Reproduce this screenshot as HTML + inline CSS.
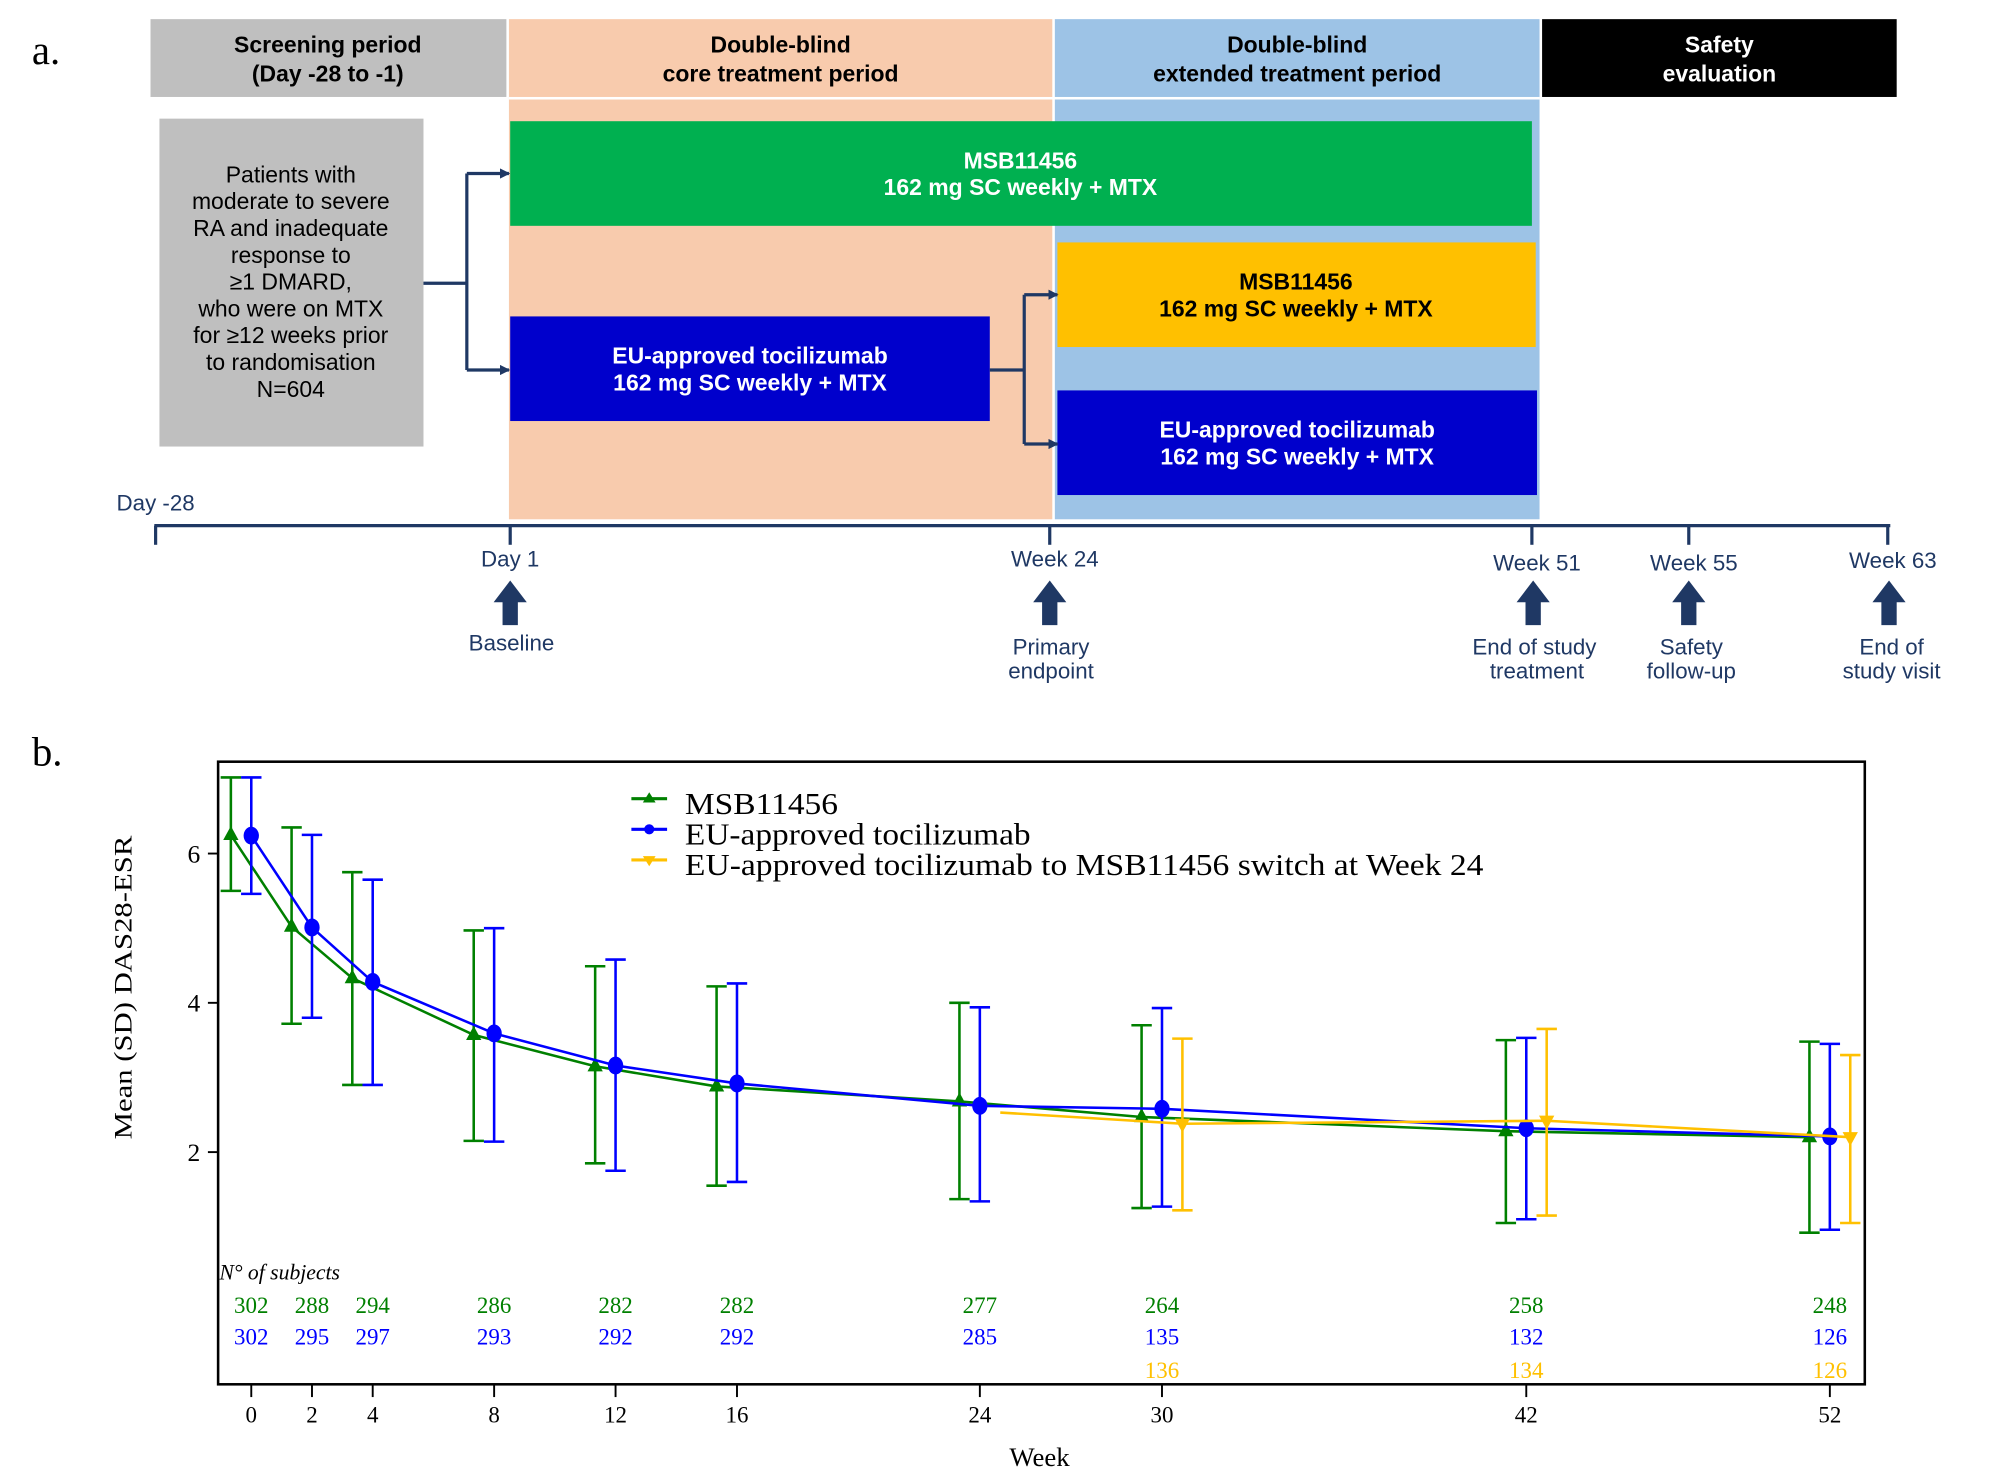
<!DOCTYPE html>
<html><head><meta charset="utf-8"><style>
html,body{margin:0;padding:0;background:#fff;}
svg{display:block;}
.bx{font-family:"Liberation Sans",sans-serif;font-weight:bold;font-size:18px;text-anchor:middle;}
.nv{font-family:"Liberation Sans",sans-serif;font-size:17.5px;fill:#1f3864;text-anchor:middle;}
.sf{font-family:"Liberation Serif",serif;}
</style></head><body>
<svg id="fig" width="2000" height="1480" viewBox="0 0 1568 1160" preserveAspectRatio="none" xmlns="http://www.w3.org/2000/svg">
<defs><marker id="ah" markerWidth="8" markerHeight="8" refX="7" refY="4" orient="auto" markerUnits="userSpaceOnUse"><path d="M0,0 L8,4 L0,8 z" fill="#1f3864"/></marker></defs>
<g>
<text class="sf" x="25" y="50" font-size="32">a.</text>
<rect x="118" y="15" width="279" height="61" fill="#bfbfbf"/>
<rect x="399" y="15" width="426" height="392" fill="#f8cbad"/>
<rect x="827" y="15" width="380" height="392" fill="#9dc3e6"/>
<rect x="399" y="76" width="808" height="2" fill="#fff"/>
<rect x="1209" y="15" width="278" height="61" fill="#000"/>
<text class="bx" x="257" y="41">Screening period</text><text class="bx" x="257" y="64">(Day -28 to -1)</text>
<text class="bx" x="612" y="41">Double-blind</text><text class="bx" x="612" y="64">core treatment period</text>
<text class="bx" x="1017" y="41">Double-blind</text><text class="bx" x="1017" y="64">extended treatment period</text>
<text class="bx" x="1348" y="41" fill="#fff">Safety</text><text class="bx" x="1348" y="64" fill="#fff">evaluation</text>
<rect x="125" y="93" width="207" height="257" fill="#bfbfbf"/>
<g font-family="Liberation Sans,sans-serif" font-size="18" text-anchor="middle" fill="#000">
<text x="228" y="143">Patients with</text><text x="228" y="164">moderate to severe</text><text x="228" y="185">RA and inadequate</text><text x="228" y="206">response to</text><text x="228" y="227">≥1 DMARD,</text><text x="228" y="248">who were on MTX</text><text x="228" y="269">for ≥12 weeks prior</text><text x="228" y="290">to randomisation</text><text x="228" y="311">N=604</text></g>
<rect x="400" y="95" width="801" height="82" fill="#00b050"/>
<text class="bx" x="800" y="132" fill="#fff">MSB11456</text><text class="bx" x="800" y="153" fill="#fff">162 mg SC weekly + MTX</text>
<rect x="400" y="248" width="376" height="82" fill="#0000cc"/>
<text class="bx" x="588" y="285" fill="#fff">EU-approved tocilizumab</text><text class="bx" x="588" y="306" fill="#fff">162 mg SC weekly + MTX</text>
<rect x="829" y="190" width="375" height="82" fill="#ffc000"/>
<text class="bx" x="1016" y="227" fill="#000">MSB11456</text><text class="bx" x="1016" y="248" fill="#000">162 mg SC weekly + MTX</text>
<rect x="829" y="306" width="376" height="82" fill="#0000cc"/>
<text class="bx" x="1017" y="343" fill="#fff">EU-approved tocilizumab</text><text class="bx" x="1017" y="364" fill="#fff">162 mg SC weekly + MTX</text>
<g stroke="#1f3864" stroke-width="2.5" fill="none">
<path d="M332,222 H366 M366,136 V290"/><path d="M366,136 H399" marker-end="url(#ah)"/><path d="M366,290 H399" marker-end="url(#ah)"/>
<path d="M776,290 H803 M803,231 V348"/><path d="M803,231 H829" marker-end="url(#ah)"/><path d="M803,348 H829" marker-end="url(#ah)"/>
</g>
<g stroke="#1f3864" stroke-width="2.5">
<line x1="121" y1="412" x2="1482" y2="412"/>
<line x1="122" y1="412" x2="122" y2="427"/><line x1="400" y1="412" x2="400" y2="427"/><line x1="823" y1="412" x2="823" y2="427"/><line x1="1201" y1="412" x2="1201" y2="427"/><line x1="1324" y1="412" x2="1324" y2="427"/><line x1="1480" y1="412" x2="1480" y2="427"/>
</g>
<text class="nv" x="122" y="400">Day -28</text>
<text class="nv" x="400" y="444">Day 1</text><text class="nv" x="827" y="444">Week 24</text><text class="nv" x="1205" y="447">Week 51</text><text class="nv" x="1328" y="447">Week 55</text><text class="nv" x="1484" y="445">Week 63</text>
<g fill="#1f3864">
<path d="M400,455 l13,17 h-7 v18 h-12 v-18 h-7 z"/><path d="M823,455 l13,17 h-7 v18 h-12 v-18 h-7 z"/><path d="M1202,455 l13,17 h-7 v18 h-12 v-18 h-7 z"/><path d="M1324,455 l13,17 h-7 v18 h-12 v-18 h-7 z"/><path d="M1481,455 l13,17 h-7 v18 h-12 v-18 h-7 z"/>
</g>
<text class="nv" x="401" y="510">Baseline</text>
<text class="nv" x="824" y="513">Primary</text><text class="nv" x="824" y="532">endpoint</text>
<text class="nv" x="1203" y="513">End of study</text><text class="nv" x="1205" y="532">treatment</text>
<text class="nv" x="1326" y="513">Safety</text><text class="nv" x="1326" y="532">follow-up</text>
<text class="nv" x="1483" y="513">End of</text><text class="nv" x="1483" y="532">study visit</text>
</g>
<g id="chart">
<text class="sf" x="25" y="600" font-size="32">b.</text>
<rect x="171" y="597" width="1291" height="488" fill="none" stroke="#000" stroke-width="2"/>
<text class="sf" font-size="20" text-anchor="middle" textLength="238" lengthAdjust="spacingAndGlyphs" transform="translate(103,774) rotate(-90)">Mean (SD) DAS28-ESR</text>
<text class="sf" font-size="21" x="815" y="1149" text-anchor="middle">Week</text>
<text class="sf" font-size="17" font-style="italic" x="172" y="1003">N° of subjects</text>
<g id="legend">
<line x1="495" y1="626" x2="523" y2="626" stroke="#008000" stroke-width="2.5"/><path d="M509,621 l5,8 h-10 z" fill="#008000"/>
<text class="sf" x="537" y="638" font-size="24" textLength="120" lengthAdjust="spacingAndGlyphs">MSB11456</text>
<line x1="495" y1="650" x2="523" y2="650" stroke="#0000ff" stroke-width="2.5"/><circle cx="509" cy="650" r="4" fill="#0000ff"/>
<text class="sf" x="537" y="662" font-size="24" textLength="271" lengthAdjust="spacingAndGlyphs">EU-approved tocilizumab</text>
<line x1="495" y1="674" x2="523" y2="674" stroke="#ffc000" stroke-width="2.5"/><path d="M509,679 l5,-8 h-10 z" fill="#ffc000"/>
<text class="sf" x="537" y="686" font-size="24" textLength="626" lengthAdjust="spacingAndGlyphs">EU-approved tocilizumab to MSB11456 switch at Week 24</text>
</g>
</g>
</svg>
<script>
const weeks=[0,2,4,8,12,16,24,30,42,52];
const yTicks=[2,4,6];
const msbMean=[6.25,5.02,4.33,3.57,3.15,2.88,2.68,2.47,2.28,2.2];
const msbHi=[7.02,6.35,5.75,4.97,4.49,4.22,4.0,3.7,3.5,3.48];
const msbLo=[5.5,3.72,2.9,2.15,1.85,1.55,1.37,1.25,1.05,0.92];
const euMean=[6.24,5.01,4.28,3.59,3.16,2.92,2.62,2.58,2.32,2.21];
const euHi=[7.02,6.25,5.65,5.0,4.58,4.26,3.94,3.93,3.53,3.45];
const euLo=[5.46,3.8,2.9,2.14,1.75,1.6,1.34,1.27,1.1,0.96];
const swWeeks=[24,30,42,52];
const swMean=[2.53,2.38,2.42,2.2];
const swHi=[null,3.52,3.65,3.3];
const swLo=[null,1.22,1.15,1.05];
const msbN=[302,288,294,286,282,282,277,264,258,248];
const euN=[302,295,297,293,292,292,285,135,132,126];
const swNWeeks=[30,42,52];
const swN=[136,134,126];
const X=w=>197+w*23.8;
const Y=v=>903-(v-2)*58.5;
const svg=document.getElementById('chart');
const NS='http://www.w3.org/2000/svg';
function mk(t,a){const e=document.createElementNS(NS,t);for(const k in a)e.setAttribute(k,a[k]);svg.appendChild(e);return e;}
yTicks.forEach(v=>{
 const t=mk('line',{x1:163,x2:171,y1:Y(v),y2:Y(v),stroke:'#000','stroke-width':1.5});
 
 
 const l=mk('text',{x:152,y:Y(v)+7,'font-size':20,'text-anchor':'middle','font-family':'Liberation Serif,serif'});l.textContent=v;
 
 
});
weeks.forEach(w=>{
 const t=mk('line',{x1:X(w),x2:X(w),y1:1085,y2:1095,stroke:'#000','stroke-width':1.5});
 
 
 const l=mk('text',{x:X(w),y:1115,'font-size':18,'text-anchor':'middle','font-family':'Liberation Serif,serif'});l.textContent=w;
 
 
});
function series(ws,mean,hi,lo,off,col,shape,name){
 const pts=ws.map((w,i)=>(X(w)+off)+','+Y(mean[i])).join(' ');
 const pl=mk('polyline',{points:pts,fill:'none',stroke:col,'stroke-width':2});
 
 
 ws.forEach((w,i)=>{
  const x=X(w)+off,y=Y(mean[i]);
  if(hi[i]!=null){
   const g=mk('path',{d:`M${x},${Y(hi[i])}V${Y(lo[i])}M${x-8},${Y(hi[i])}H${x+8}M${x-8},${Y(lo[i])}H${x+8}`,stroke:col,'stroke-width':2,fill:'none'});
   
   
   let m;
   if(shape==='tri')m=mk('path',{d:`M${x},${y-7}l6,11h-12z`,fill:col});
   else if(shape==='dot')m=mk('ellipse',{cx:x,cy:y,rx:6,ry:7,fill:col});
   else m=mk('path',{d:`M${x},${y+7}l6,-11h-12z`,fill:col});
   
   
  }
 });
}
series(weeks,msbMean,msbHi,msbLo,-16,'#008000','tri','msb');
series(weeks,euMean,euHi,euLo,0,'#0000ff','dot','eu');
series(swWeeks,swMean,swHi,swLo,16,'#ffc000','inv','switch');
function counts(ws,arr,y,col,name){
 ws.forEach((w,i)=>{
  const t=mk('text',{x:X(w),y:y,'font-size':18,'text-anchor':'middle',fill:col,'font-family':'Liberation Serif,serif'});
  t.textContent=arr[i];
  
  
 });
}
counts(weeks,msbN,1029,'#008000','msb');
counts(weeks,euN,1054,'#0000ff','eu');
counts(swNWeeks,swN,1080,'#ffc000','switch');
</script>
</body></html>
